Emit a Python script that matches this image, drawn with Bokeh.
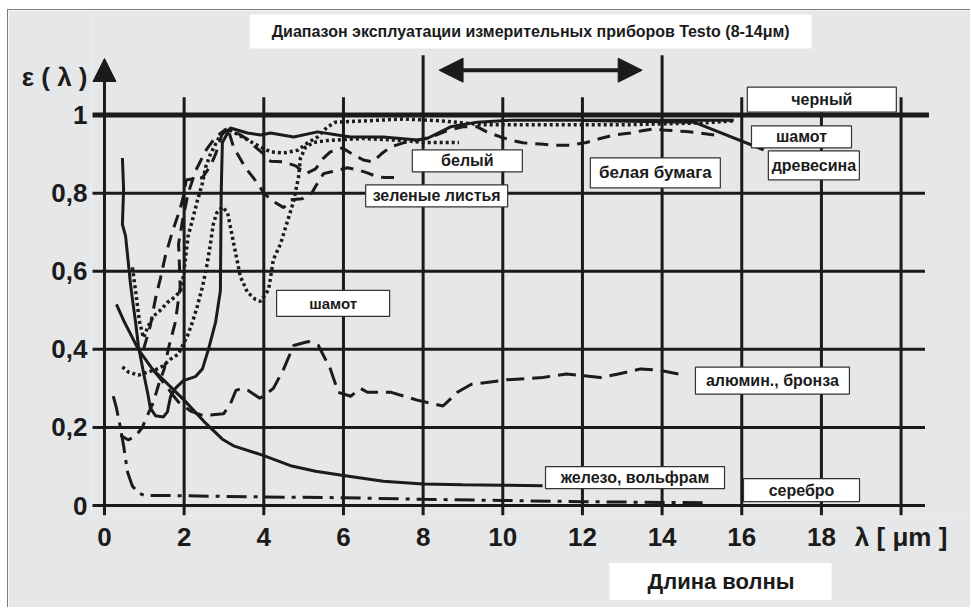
from bokeh.plotting import figure
from bokeh.models import FixedTicker, Title, Arrow, NormalHead
from bokeh.core.properties import value
from bokeh.embed import file_html
from bokeh.resources import INLINE

# ---------------- data ----------------
x_ticks = [0, 2, 4, 6, 8, 10, 12, 14, 16, 18, 20]
x_tick_labels = ["0", "2", "4", "6", "8", "10", "12", "14", "16", "18", "λ [ μm ]"]
y_ticks = [0, 0.2, 0.4, 0.6, 0.8, 1.0]
y_tick_labels = ["0", "0,2", "0,4", "0,6", "0,8", "1"]
y_caption = "ε ( λ )"
testo_band = [8, 14]

# solid curve (upper)
solid_x = [0.45, 0.48, 0.45, 0.53, 0.60, 0.65, 0.70, 0.78, 0.85, 0.98,
           1.10, 1.15, 1.28, 1.48, 1.58, 1.66, 1.78, 1.98, 2.28, 2.46,
           2.61, 2.79, 2.91, 2.93, 2.96, 3.16, 3.59, 3.92, 4.17, 4.75,
           5.35, 5.85, 6.18, 7.0, 7.86, 8.1, 8.69, 9.36, 10.2, 12.0,
           14.0, 15.8]
solid_y = [0.89, 0.81, 0.72, 0.69, 0.62, 0.57, 0.53, 0.47, 0.41, 0.34,
           0.28, 0.25, 0.23, 0.227, 0.24, 0.28, 0.30, 0.32, 0.33, 0.35,
           0.40, 0.47, 0.55, 0.80, 0.93, 0.967, 0.954, 0.949, 0.954, 0.944,
           0.957, 0.949, 0.944, 0.944, 0.936, 0.94, 0.97, 0.982, 0.987, 0.987,
           0.987, 0.987]

# solid tail (шамот, right)
tail_x = [12.0, 14.8, 16.55]
tail_y = [0.986, 0.982, 0.911]

# железо, вольфрам
iron_x = [0.3, 0.5, 0.85, 1.2, 1.5, 2.0, 2.5, 2.96, 3.24, 4.0,
          4.67, 5.3, 6.0, 7.0, 8.0, 9.0, 10.0, 11.0]
iron_y = [0.515, 0.47, 0.40, 0.35, 0.32, 0.27, 0.215, 0.17, 0.153, 0.128,
          0.102, 0.088, 0.077, 0.062, 0.055, 0.053, 0.052, 0.051]

# серебро
silver_x = [0.22, 0.3, 0.38, 0.48, 0.58, 0.7, 0.85, 1.0, 1.33, 2.0,
            4.0, 6.0, 8.0, 10.0, 12.0, 14.0, 15.1]
silver_y = [0.28, 0.25, 0.21, 0.153, 0.085, 0.05, 0.032, 0.026, 0.026, 0.025,
            0.022, 0.02, 0.016, 0.013, 0.01, 0.008, 0.007]

# алюмин., бронза
alu_x = [1.2, 1.6, 1.7, 1.86, 2.16, 2.49, 2.99, 3.16, 3.3, 3.45,
         3.6, 3.9, 4.05, 4.24, 4.5, 4.75, 5.12, 5.37, 5.67, 5.87,
         6.18, 6.43, 6.6, 6.8, 7.2, 7.85, 8.5, 8.86, 9.2, 10.1,
         11.0, 11.6, 12.45, 12.9, 13.46, 13.9, 14.6]
alu_y = [0.35, 0.30, 0.285, 0.265, 0.242, 0.23, 0.235, 0.26, 0.295, 0.30,
         0.295, 0.275, 0.285, 0.30, 0.35, 0.41, 0.42, 0.41, 0.35, 0.29,
         0.28, 0.30, 0.29, 0.29, 0.29, 0.27, 0.255, 0.29, 0.31, 0.322,
         0.328, 0.337, 0.328, 0.337, 0.35, 0.347, 0.333]

# белый (dotted)
white_x = [0.70, 0.78, 0.88, 0.98, 1.1, 1.23, 1.4, 1.58, 1.78, 1.91,
           1.98, 2.03, 2.1, 2.23, 2.33, 2.46, 2.54, 2.66, 2.84, 2.99,
           3.1, 3.46, 3.92, 4.17, 4.5, 4.85, 5.1, 5.35, 5.6, 5.8,
           6.5, 7.5, 8.5, 9.5, 11.0, 13.0, 15.0, 15.8]
white_y = [0.61, 0.55, 0.47, 0.43, 0.46, 0.485, 0.50, 0.52, 0.535, 0.55,
           0.587, 0.63, 0.69, 0.74, 0.78, 0.826, 0.867, 0.90, 0.936, 0.96,
           0.965, 0.944, 0.918, 0.906, 0.903, 0.91, 0.929, 0.944, 0.97, 0.982,
           0.985, 0.99, 0.985, 0.975, 0.975, 0.975, 0.98, 0.985]

# шамот (dotted, with dip)
shamot_x = [0.45, 0.6, 0.73, 0.85, 1.1, 1.33, 1.46, 1.66, 1.86, 1.96,
            2.08, 2.21, 2.33, 2.46, 2.58, 2.66, 2.73, 2.82, 2.96, 3.09,
            3.16, 3.29, 3.41, 3.59, 3.79, 3.92, 4.12, 4.24, 4.42, 4.6,
            4.75, 4.87, 4.92, 5.05, 5.25, 5.6, 6.5, 7.5, 8.0, 8.9]
shamot_y = [0.355, 0.342, 0.338, 0.334, 0.342, 0.35, 0.357, 0.375, 0.388, 0.41,
            0.434, 0.47, 0.51, 0.56, 0.62, 0.67, 0.72, 0.75, 0.765, 0.75,
            0.714, 0.648, 0.587, 0.546, 0.528, 0.523, 0.553, 0.63, 0.67, 0.73,
            0.78, 0.84, 0.89, 0.918, 0.93, 0.935, 0.94, 0.935, 0.93, 0.93]

# зеленые листья (dashed)
leaves_x = [0.98, 1.15, 1.28, 1.4, 1.53, 1.7, 1.9, 2.0, 2.05, 2.46,
            2.66, 2.79, 2.95, 3.1, 3.24, 3.54, 3.84, 4.0, 4.22, 4.5,
            4.67, 4.97, 5.2, 5.35, 5.5, 5.7, 6.1, 6.35, 6.6, 6.85,
            7.05, 7.4]
leaves_y = [0.40, 0.46, 0.53, 0.58, 0.64, 0.70, 0.76, 0.80, 0.834, 0.84,
            0.87, 0.90, 0.95, 0.965, 0.918, 0.865, 0.826, 0.80, 0.78, 0.763,
            0.783, 0.786, 0.80, 0.826, 0.85, 0.855, 0.865, 0.86, 0.852, 0.842,
            0.84, 0.84]

# белая бумага (dashed)
paper_x = [0.40, 0.6, 0.78, 0.95, 1.03, 1.23, 1.36, 1.5, 1.6, 1.78,
           1.9, 1.88, 1.86, 1.96, 2.1, 2.3, 2.55, 2.8, 3.0, 3.15,
           3.4, 3.62, 3.79, 4.0, 4.17, 4.5, 4.8, 5.05, 5.3, 5.5,
           5.67, 5.97, 6.18, 6.5, 6.73, 6.98, 7.18, 7.5, 7.86, 8.2,
           8.6, 9.0, 9.36, 9.6, 9.94, 10.2, 10.5, 10.95, 11.3, 11.7,
           12.1, 12.45, 12.8, 13.2, 13.5, 13.8, 14.0, 14.6, 14.96, 15.5]
paper_y = [0.18, 0.168, 0.178, 0.20, 0.22, 0.265, 0.31, 0.35, 0.40, 0.47,
           0.56, 0.62, 0.67, 0.73, 0.80, 0.86, 0.91, 0.945, 0.96, 0.962,
           0.95, 0.936, 0.918, 0.90, 0.882, 0.88, 0.87, 0.85, 0.862, 0.89,
           0.906, 0.916, 0.903, 0.885, 0.88, 0.903, 0.918, 0.929, 0.936, 0.944,
           0.96, 0.97, 0.97, 0.957, 0.944, 0.936, 0.929, 0.926, 0.923, 0.923,
           0.93, 0.94, 0.949, 0.954, 0.96, 0.965, 0.962, 0.958, 0.954, 0.946]

# curve labels
box_texts = ["белый", "зеленые листья", "белая бумага", "черный", "шамот",
             "древесина", "шамот", "алюмин., бронза", "железо, вольфрам", "серебро"]
title_text = "Диапазон эксплуатации измерительных приборов Testo (8-14μм)"
xlabel_text = "Длина волны"

# ---------------- layout / style ----------------
box_x = [9.11, 8.34, 13.83, 18.01, 17.5, 17.81, 5.74, 16.77, 13.32, 17.5]
box_y = [0.883, 0.793, 0.852, 1.0395, 0.944, 0.871, 0.518, 0.32, 0.0714, 0.0395]
box_w = [110, 142, 130, 149, 100, 91, 113, 154, 179, 116]
box_h = [22, 22, 30, 25, 22, 29, 26, 27, 22, 23]
box_fs = ["16px", "16px", "17px", "16px", "16px", "16px", "15px", "16px", "16px", "16px"]
caption_y = 1.097

INK = "#1b1b1b"
BG = "#e6e7e9"
FONT = "Liberation Sans"

p = figure(width=963, height=598, output_backend="svg", toolbar_location=None,
           x_range=(-0.326, 21.768), y_range=(-0.0255, 1.2679),
           min_border_left=83, min_border_right=0, min_border_top=0,
           min_border_bottom=91)
p.styles = {"margin-left": "7px", "margin-top": "9px",
            "border-left": "1px solid #7a7a7a", "border-top": "1px solid #7a7a7a"}
p.background_fill_color = BG
p.border_fill_color = BG
p.outline_line_color = None
p.xgrid.visible = False
p.ygrid.visible = False

for ax in (p.xaxis[0], p.yaxis[0]):
    ax.axis_line_color = None
    ax.major_tick_line_color = None
    ax.minor_tick_line_color = None
    ax.major_tick_out = 0
    ax.major_tick_in = 0
    ax.major_label_text_font = FONT
    ax.major_label_text_font_style = "bold"
    ax.major_label_text_font_size = "26px"
    ax.major_label_text_color = INK

p.xaxis.ticker = FixedTicker(ticks=x_ticks)
p.xaxis.major_label_overrides = dict(zip(x_ticks, x_tick_labels))
p.xaxis.major_label_standoff = 6
p.yaxis.ticker = FixedTicker(ticks=y_ticks + [caption_y])
p.yaxis.major_label_overrides = {**dict(zip(y_ticks, y_tick_labels)), caption_y: y_caption}
p.yaxis.major_label_standoff = 4

# grid lines drawn from the tick lists
vx = x_ticks[1:]
vtop = [1.153 if t in testo_band else 1.046 for t in vx]
p.segment(x0=vx, y0=[-0.0255] * len(vx), x1=vx, y1=vtop, line_color=INK, line_width=3)
hy = y_ticks
p.segment(x0=[-0.3] * len(hy), y0=hy, x1=[20.7 if v == 1.0 else 20.6 for v in hy], y1=hy,
          line_color=INK, line_width=[5 if v == 1.0 else 3 for v in hy])

# y axis line with arrow
p.add_layout(Arrow(x_start=0, y_start=-0.0255, x_end=0, y_end=1.145,
                   line_color=INK, line_width=3,
                   end=NormalHead(size=23, fill_color=INK, line_color=INK)))
# Testo range arrow
p.add_layout(Arrow(x_start=testo_band[0] + 0.4, y_start=1.115,
                   x_end=testo_band[1] - 0.5, y_end=1.115,
                   line_color=INK, line_width=4,
                   start=NormalHead(size=24, fill_color=INK, line_color=INK),
                   end=NormalHead(size=24, fill_color=INK, line_color=INK)))

# curves
lw = 3
p.line(solid_x, solid_y, line_color=INK, line_width=lw)
p.line(tail_x, tail_y, line_color=INK, line_width=lw)
p.line(iron_x, iron_y, line_color=INK, line_width=lw)
p.line(silver_x, silver_y, line_color=INK, line_width=lw, line_dash="20 7 4 7")
p.line(alu_x, alu_y, line_color=INK, line_width=lw, line_dash="18 8")
p.line(white_x, white_y, line_color=INK, line_width=3.5, line_dash="3 3")
p.line(shamot_x, shamot_y, line_color=INK, line_width=3.5, line_dash="3 3")
p.line(leaves_x, leaves_y, line_color=INK, line_width=lw, line_dash="13 8")
p.line(paper_x, paper_y, line_color=INK, line_width=lw, line_dash="13 8")

# title box
p.rect(x=[10.7], y=[1.214], width=[562], height=[34], width_units="screen",
       height_units="screen", fill_color="white", line_color=None)
p.text(x=[10.7], y=[1.214], text=[title_text], text_align="center", text_baseline="middle",
       text_font=value(FONT), text_font_style="bold", text_font_size="16px", text_color=INK)

# curve label boxes
p.rect(x=box_x, y=box_y, width=box_w, height=box_h, width_units="screen",
       height_units="screen", fill_color="white", line_color="#333333", line_width=1.2)
p.text(x=box_x, y=box_y, text=box_texts, text_align="center", text_baseline="middle",
       text_font=value(FONT), text_font_style="bold", text_font_size=box_fs, text_color=INK)

# x caption below the axis
p.add_layout(Title(text=xlabel_text, align="left", offset=518, vertical_align="middle",
                   standoff=15, text_font=FONT, text_font_style="bold",
                   text_font_size="22px", text_color=INK, background_fill_color="white",
                   padding=dict(left=38, right=37, top=6, bottom=6)), "below")

open("out.html", "w").write(file_html(p, INLINE))
